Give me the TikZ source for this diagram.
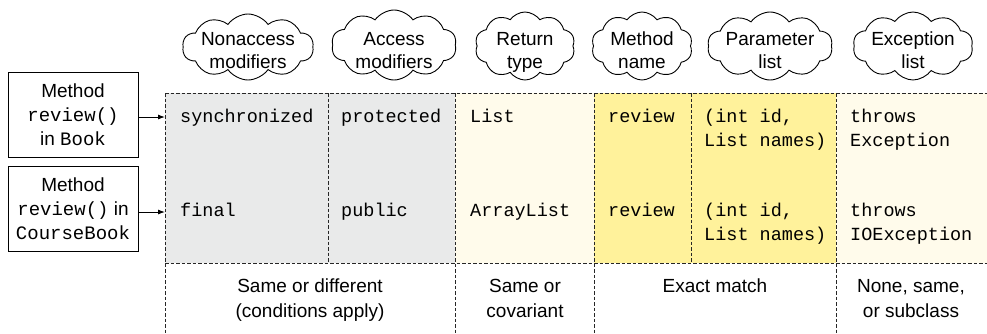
\documentclass[tikz,border=0pt]{standalone}
\usepackage{fontspec}
\setmainfont{Liberation Sans}
\setmonofont{Liberation Mono}
\usetikzlibrary{shapes.symbols,arrows.meta}
\definecolor{cellgray}{HTML}{E9EAEA}
\definecolor{cellpale}{HTML}{FFFBEB}
\definecolor{cellyellow}{HTML}{FFF29B}
\definecolor{gridline}{HTML}{262626}
\begin{document}
\begin{tikzpicture}[x=1pt,y=-1pt,
  code/.style={font=\fontsize{18.5}{24}\selectfont\ttfamily, anchor=base west, inner sep=0pt, align=left},
  methodbox/.style={draw=black, line width=0.9pt, minimum width=130pt, minimum height=85pt, align=center, font=\fontsize{19}{24}\selectfont, inner sep=0pt},
  thought/.style={cloud, cloud puffs=10, cloud puff arc=110, cloud ignores aspect, draw=black, line width=0.9pt, inner sep=0pt, fill=white},
  thoughttext/.style={font=\fontsize{19}{23}\selectfont, align=center, anchor=base, inner sep=0pt},
  gridln/.style={draw=gridline, dash pattern=on 3.5pt off 2pt, line width=1pt},
  conn/.style={-{Latex[length=7pt,width=5pt]}, line width=0.9pt},
  rule/.style={font=\fontsize{19}{25}\selectfont, align=center, anchor=base, inner sep=0pt}]
\useasboundingbox (0,0) rectangle (987,333);
% cell fills
\fill[cellgray] (165,93) rectangle (455,263);
\fill[cellpale] (455,93) rectangle (594,263);
\fill[cellyellow] (594,93) rectangle (836,263);
\fill[cellpale] (836,93) rectangle (987,263);
% grid
\draw[gridln] (165,93) -- (987,93);
\draw[gridln] (165,263) -- (987,263);
\draw[gridln] (165,93) -- (165,333);
\draw[gridln] (328,93) -- (328,263);
\draw[gridln] (455,93) -- (455,333);
\draw[gridln] (594,93) -- (594,333);
\draw[gridln] (691,93) -- (691,263);
\draw[gridln] (836,93) -- (836,333);
% clouds
\node[thought, minimum width=131pt, minimum height=66pt] (c1) at (248,47) {};
\node[thoughttext] (c1t) at (248,68) {Nonaccess\\modifiers};
\node[thought, minimum width=125pt, minimum height=70pt] (c2) at (394,45) {};
\node[thoughttext] (c2t) at (394,68) {Access\\modifiers};
\node[thought, minimum width=100pt, minimum height=68pt] (c3) at (525,46) {};
\node[thoughttext] (c3t) at (525,68) {Return\\type};
\node[thought, minimum width=101pt, minimum height=68pt] (c4) at (642,46) {};
\node[thoughttext] (c4t) at (642,68) {Method\\name};
\node[thought, minimum width=125pt, minimum height=68pt] (c5) at (770,46) {};
\node[thoughttext] (c5t) at (770,68) {Parameter\\list};
\node[thought, minimum width=120pt, minimum height=68pt] (c6) at (913,46) {};
\node[thoughttext] (c6t) at (913,68) {Exception\\list};
% method boxes
\node[methodbox] (m1) at (73,115) {Method\\\texttt{review()}\\in \texttt{Book}};
\node[methodbox] (m2) at (73,209) {Method\\\texttt{review()} in\\\texttt{CourseBook}};
\coordinate (in1) at (165,117);
\coordinate (in2) at (165,212);
\draw[conn] (m1.east |- in1) -- (in1);
\draw[conn] (m2.east |- in2) -- (in2);
% row 1
\node[code] (r1a) at (180,122) {synchronized};
\node[code] (r1b) at (341,122) {protected};
\node[code] (r1c) at (470,122) {List};
\node[code] (r1d) at (608,122) {review};
\node[code] (r1e) at (704,146) {(int id,\\List names)};
\node[code] (r1f) at (850,146) {throws\\Exception};
% row 2
\node[code] (r2a) at (180,216) {final};
\node[code] (r2b) at (341,216) {public};
\node[code] (r2c) at (470,216) {ArrayList};
\node[code] (r2d) at (608,216) {review};
\node[code] (r2e) at (704,240) {(int id,\\List names)};
\node[code] (r2f) at (850,240) {throws\\IOException};
% rules
\node[rule] (ra) at (310,317) {Same or different\\(conditions apply)};
\node[rule] (rb) at (525,317) {Same or\\covariant};
\node[rule] (rc) at (715,292) {Exact match};
\node[rule] (rd) at (911,317) {None, same,\\or subclass};
\end{tikzpicture}
\end{document}
